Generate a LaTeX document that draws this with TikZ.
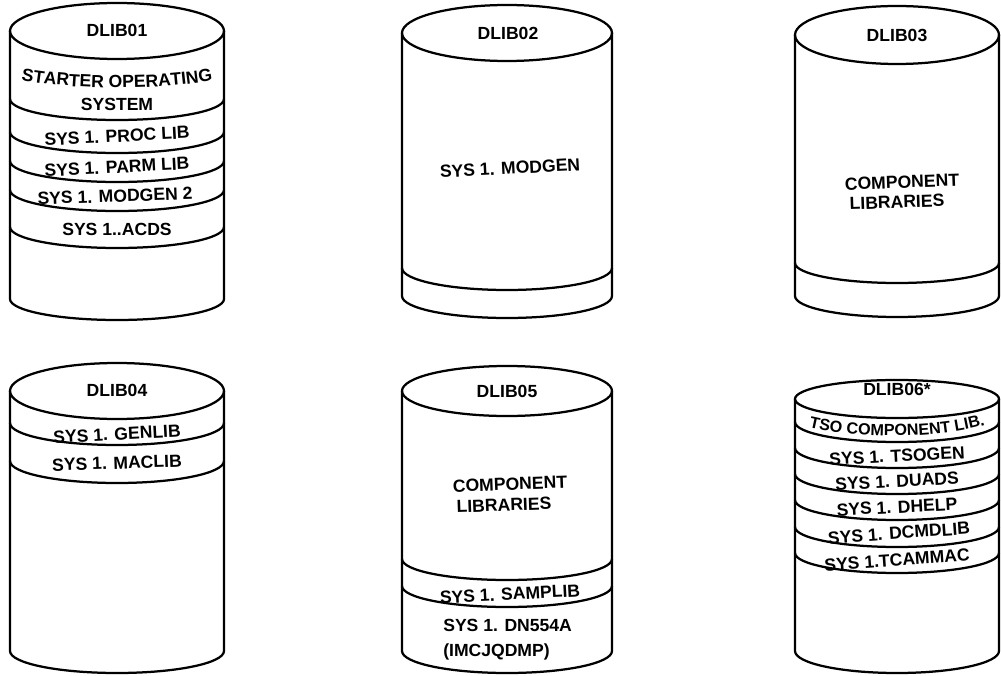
\documentclass[tikz,border=0pt]{standalone}
\usepackage{fontspec}
\setmainfont{Liberation Sans}
\usetikzlibrary{decorations.text}
\newcommand{\disklabelfont}{\bfseries\fontsize{12.5}{14}\selectfont}
\newcommand{\disksmallfont}{\bfseries\fontsize{11.5}{13}\selectfont}

\begin{document}
\begin{tikzpicture}[
    x=0.025cm, y=-0.025cm,
    disk/.style={line width=1.6pt, line join=round},
    lbl/.style={font=\disklabelfont, inner sep=0pt},
    bent/.style={decorate, decoration={text along path, text align=center, text={#1}}}
  ]
  \path[fill=white] (0,0) rectangle (1001,676);

  % DLIB01
  \draw[disk] (10,31) -- (10,299) arc[start angle=180, end angle=0, x radius=107, y radius=21] -- (224,31);
  \draw[disk] (117,31) ellipse[x radius=107, y radius=28];
  \foreach \yc in {120,153,182,211,248}
    \draw[disk] (224,\yc-21) arc[start angle=0, end angle=180, x radius=107, y radius=21];
  \node[lbl] (dlib01) at (117,30) {DLIB01};
  \path[bent={|\disklabelfont|STARTER OPERATING}] (10,78) .. controls (70,91) and (164,91) .. (224,78);
  \node[lbl] (system) at (117,104) {SYSTEM};
  \node[lbl, rotate=3] (proclib) at (117,136) {SYS 1. PROC LIB};
  \node[lbl, rotate=3] (parmlib) at (117,167) {SYS 1. PARM LIB};
  \node[lbl, rotate=2] (modgen2) at (115,196) {SYS 1. MODGEN 2};
  \node[lbl] (acds) at (117,229) {SYS 1..ACDS};

  % DLIB02
  \draw[disk] (402,33) -- (402,296) arc[start angle=180, end angle=0, x radius=105, y radius=22] -- (612,33);
  \draw[disk] (507,33) ellipse[x radius=105, y radius=28];
  \draw[disk] (612,268) arc[start angle=0, end angle=180, x radius=105, y radius=22];
  \node[lbl] (dlib02) at (508,33) {DLIB02};
  \node[lbl, rotate=3] (modgen) at (510,168) {SYS 1. MODGEN};

  % DLIB03
  \draw[disk] (795,35) -- (795,296) arc[start angle=180, end angle=0, x radius=102, y radius=21] -- (999,35);
  \draw[disk] (897,35) ellipse[x radius=102, y radius=29];
  \draw[disk] (999,263) arc[start angle=0, end angle=180, x radius=102, y radius=20];
  \node[lbl] (dlib03) at (897,35) {DLIB03};
  \node[lbl, rotate=2] (comp03) at (902,182) {COMPONENT};
  \node[lbl, rotate=2] (libs03) at (897,202) {LIBRARIES};

  % DLIB04
  \draw[disk] (10,391) -- (10,651) arc[start angle=180, end angle=0, x radius=107, y radius=22] -- (224,391);
  \draw[disk] (117,391) ellipse[x radius=107, y radius=28];
  \foreach \yc in {445,483}
    \draw[disk] (224,\yc-22) arc[start angle=0, end angle=180, x radius=107, y radius=22];
  \node[lbl] (dlib04) at (117,390) {DLIB04};
  \node[lbl, rotate=3] (genlib) at (117,434) {SYS 1. GENLIB};
  \node[lbl, rotate=2] (maclib) at (117,463) {SYS 1. MACLIB};

  % DLIB05
  \draw[disk] (402,391) -- (402,651) arc[start angle=180, end angle=0, x radius=105, y radius=22] -- (612,391);
  \draw[disk] (507,391) ellipse[x radius=105, y radius=25];
  \foreach \yc in {580,607}
    \draw[disk] (612,\yc-21) arc[start angle=0, end angle=180, x radius=105, y radius=21];
  \node[lbl] (dlib05) at (507,391) {DLIB05};
  \node[lbl, rotate=2] (comp05) at (510,484) {COMPONENT};
  \node[lbl, rotate=2] (libs05) at (504,505) {LIBRARIES};
  \node[lbl, rotate=3] (samplib) at (510,594) {SYS 1. SAMPLIB};
  \node[lbl, anchor=west] (dn554a) at (443,625) {SYS 1. DN554A};
  \node[lbl, anchor=west] (imcjqdmp) at (443,652) {(IMCJQDMP)};

  % DLIB06
  \draw[disk] (795,399) -- (795,651) arc[start angle=180, end angle=0, x radius=102, y radius=22] -- (999,399);
  \draw[disk] (897,399) ellipse[x radius=102, y radius=19];
  \foreach \yc in {442,468,494,520,547,573}
    \draw[disk] (999,\yc-20) arc[start angle=0, end angle=180, x radius=102, y radius=20];
  \node[lbl] (dlib06) at (897,389) {DLIB06*};
  \path[bent={|\disksmallfont|TSO COMPONENT LIB.}] (800,425) .. controls (850,440) and (944,440) .. (994,422);
  \node[lbl, rotate=3] (tsogen) at (897,456) {SYS 1. TSOGEN};
  \node[lbl, rotate=3] (duads) at (897,481) {SYS 1. DUADS};
  \node[lbl, rotate=3] (dhelp) at (897,507) {SYS 1. DHELP};
  \node[lbl, rotate=4] (dcmdlib) at (899,533) {SYS 1. DCMDLIB};
  \node[lbl, rotate=4] (tcammac) at (897,560) {SYS 1.TCAMMAC};
\end{tikzpicture}
\end{document}
